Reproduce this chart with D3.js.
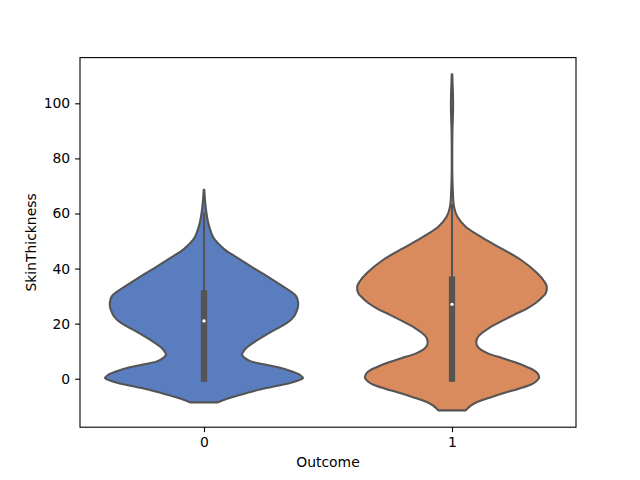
<!DOCTYPE html>
<html>
<head>
<meta charset="utf-8">
<script src="https://cdn.jsdelivr.net/npm/d3@7"></script>
<style>
  html, body { margin: 0; padding: 0; background: #fff; }
  svg { display: block; }
  text { font-family: "DejaVu Sans", sans-serif; }
</style>
</head>
<body>
<svg id="chart" width="640" height="480"></svg>
<script>
// ---- data ----
const categories = ["0", "1"];
const colors = ["#597dbf", "#da8b5e"];
const yTicks = [0, 20, 40, 60, 80, 100];

// violin profile: value and relative density (1 = widest violin)
const violin0Values = [68.6, 64, 60.1, 56.5, 52.8, 50.4, 46.8, 44.4, 41, 37.7, 34.4, 31.1, 29.9, 28, 26.2, 24.4, 22.6, 20.8, 19.0, 17.2, 15.3, 13.5, 11.7, 10.2, 8.7, 7.5, 6.3, 5.1, 3.9, 2.6, 1.45, 0.25, -1.0, -2.2, -3.4, -4.6, -5.8, -7.2, -8.6];
const violin0Density = [0.003, 0.012, 0.025, 0.043, 0.075, 0.111, 0.212, 0.313, 0.464, 0.615, 0.756, 0.897, 0.930, 0.948, 0.948, 0.932, 0.907, 0.857, 0.776, 0.685, 0.595, 0.514, 0.444, 0.403, 0.383, 0.413, 0.474, 0.625, 0.776, 0.887, 0.965, 0.998, 0.92, 0.79, 0.63, 0.49, 0.37, 0.24, 0.141];

const violin1Values = [110.5, 107, 103, 99, 95, 91, 85, 75, 68.6, 62.5, 58.9, 55.2, 51.6, 47.4, 43.2, 38.3, 35.5, 33.5, 31.1, 29.5, 27.5, 25.3, 23.2, 20.8, 18.4, 16.6, 14.8, 12.3, 10.8, 9.3, 7.5, 5.7, 4.1, 2.6, 1.4, 0.25, -1.0, -2.2, -3.7, -5.2, -6.7, -8.2, -9.7, -11.5];
const violin1Density = [0.003, 0.006, 0.010, 0.011, 0.009, 0.005, 0.003, 0.003, 0.008, 0.020, 0.053, 0.138, 0.289, 0.491, 0.693, 0.860, 0.927, 0.955, 0.945, 0.907, 0.844, 0.746, 0.625, 0.494, 0.373, 0.302, 0.255, 0.249, 0.282, 0.356, 0.504, 0.658, 0.766, 0.844, 0.872, 0.877, 0.847, 0.793, 0.665, 0.524, 0.393, 0.272, 0.192, 0.138];

// inner box statistics
const q1 = [0, 0];
const medians = [21, 27];
const q3 = [31, 36];
const whiskLow = [0, 0];
const whiskHigh = [60, 63];

// ---- layout ----
const svg = d3.select("#chart");
const mLeft = 80, mRight = 576, mTop = 57.6, mBottom = 427.2;
const gray = "#545454";

const x = d3.scaleLinear().domain([-0.5, 1.5]).range([mLeft, mRight]);
const y = d3.scaleLinear().domain([-17.6, 116.6]).range([mBottom, mTop]);
const w = d3.scaleLinear().domain([0, 1]).range([0, 0.4]); // half-width in category units

const violins = [
  { values: violin0Values, dens: violin0Density },
  { values: violin1Values, dens: violin1Density }
];

const plot = svg.append("g");

violins.forEach((v, i) => {
  const pts = v.values.map((val, k) => ({ v: val, d: v.dens[k] }));
  const area = d3.area()
    .y(p => y(p.v))
    .x0(p => x(i - w(p.d)))
    .x1(p => x(i + w(p.d)))
    .curve(d3.curveCatmullRom.alpha(0.5));
  plot.append("path")
    .attr("d", area(pts))
    .attr("fill", colors[i])
    .attr("stroke", gray)
    .attr("stroke-width", 2.08)
    .attr("stroke-linejoin", "round");

  // whisker
  plot.append("line")
    .attr("x1", x(i)).attr("x2", x(i))
    .attr("y1", y(whiskLow[i])).attr("y2", y(whiskHigh[i]))
    .attr("stroke", gray).attr("stroke-width", 2.08)
    .attr("stroke-linecap", "square");
  // box
  plot.append("line")
    .attr("x1", x(i)).attr("x2", x(i))
    .attr("y1", y(q1[i])).attr("y2", y(q3[i]))
    .attr("stroke", gray).attr("stroke-width", 6.25)
    .attr("stroke-linecap", "square");
  // median
  plot.append("circle")
    .attr("cx", x(i)).attr("cy", y(medians[i]))
    .attr("r", 1.7)
    .attr("fill", "#fff");
});

// ---- axes ----
const xAxis = d3.axisBottom(x).tickValues([0, 1]).tickFormat(d => categories[d])
  .tickSizeInner(4.9).tickSizeOuter(0).tickPadding(4.9);
const gx = svg.append("g").attr("transform", `translate(0,${mBottom})`).call(xAxis);
const yAxis = d3.axisLeft(y).tickValues(yTicks).tickFormat(d3.format("d"))
  .tickSizeInner(4.9).tickSizeOuter(0).tickPadding(4.9);
const gy = svg.append("g").attr("transform", `translate(${mLeft},0)`).call(yAxis);

[gx, gy].forEach(g => {
  g.select(".domain").remove();
  g.selectAll(".tick line").attr("stroke", "#000").attr("stroke-width", 1.1);
  g.selectAll(".tick text").attr("fill", "#000").style("font-size", "13.9px")
    .style("font-family", "'DejaVu Sans', sans-serif");
});

// frame
svg.append("rect")
  .attr("x", mLeft).attr("y", mTop)
  .attr("width", mRight - mLeft).attr("height", mBottom - mTop)
  .attr("fill", "none").attr("stroke", "#000").attr("stroke-width", 1.1);

// labels
svg.append("text")
  .attr("x", (mLeft + mRight) / 2).attr("y", 467)
  .attr("text-anchor", "middle")
  .style("font-size", "13.9px")
  .text("Outcome");
svg.append("text")
  .attr("transform", `translate(36,${(mTop + mBottom) / 2}) rotate(-90)`)
  .attr("text-anchor", "middle")
  .style("font-size", "13.9px")
  .text("SkinThickness");
</script>
</body>
</html>
